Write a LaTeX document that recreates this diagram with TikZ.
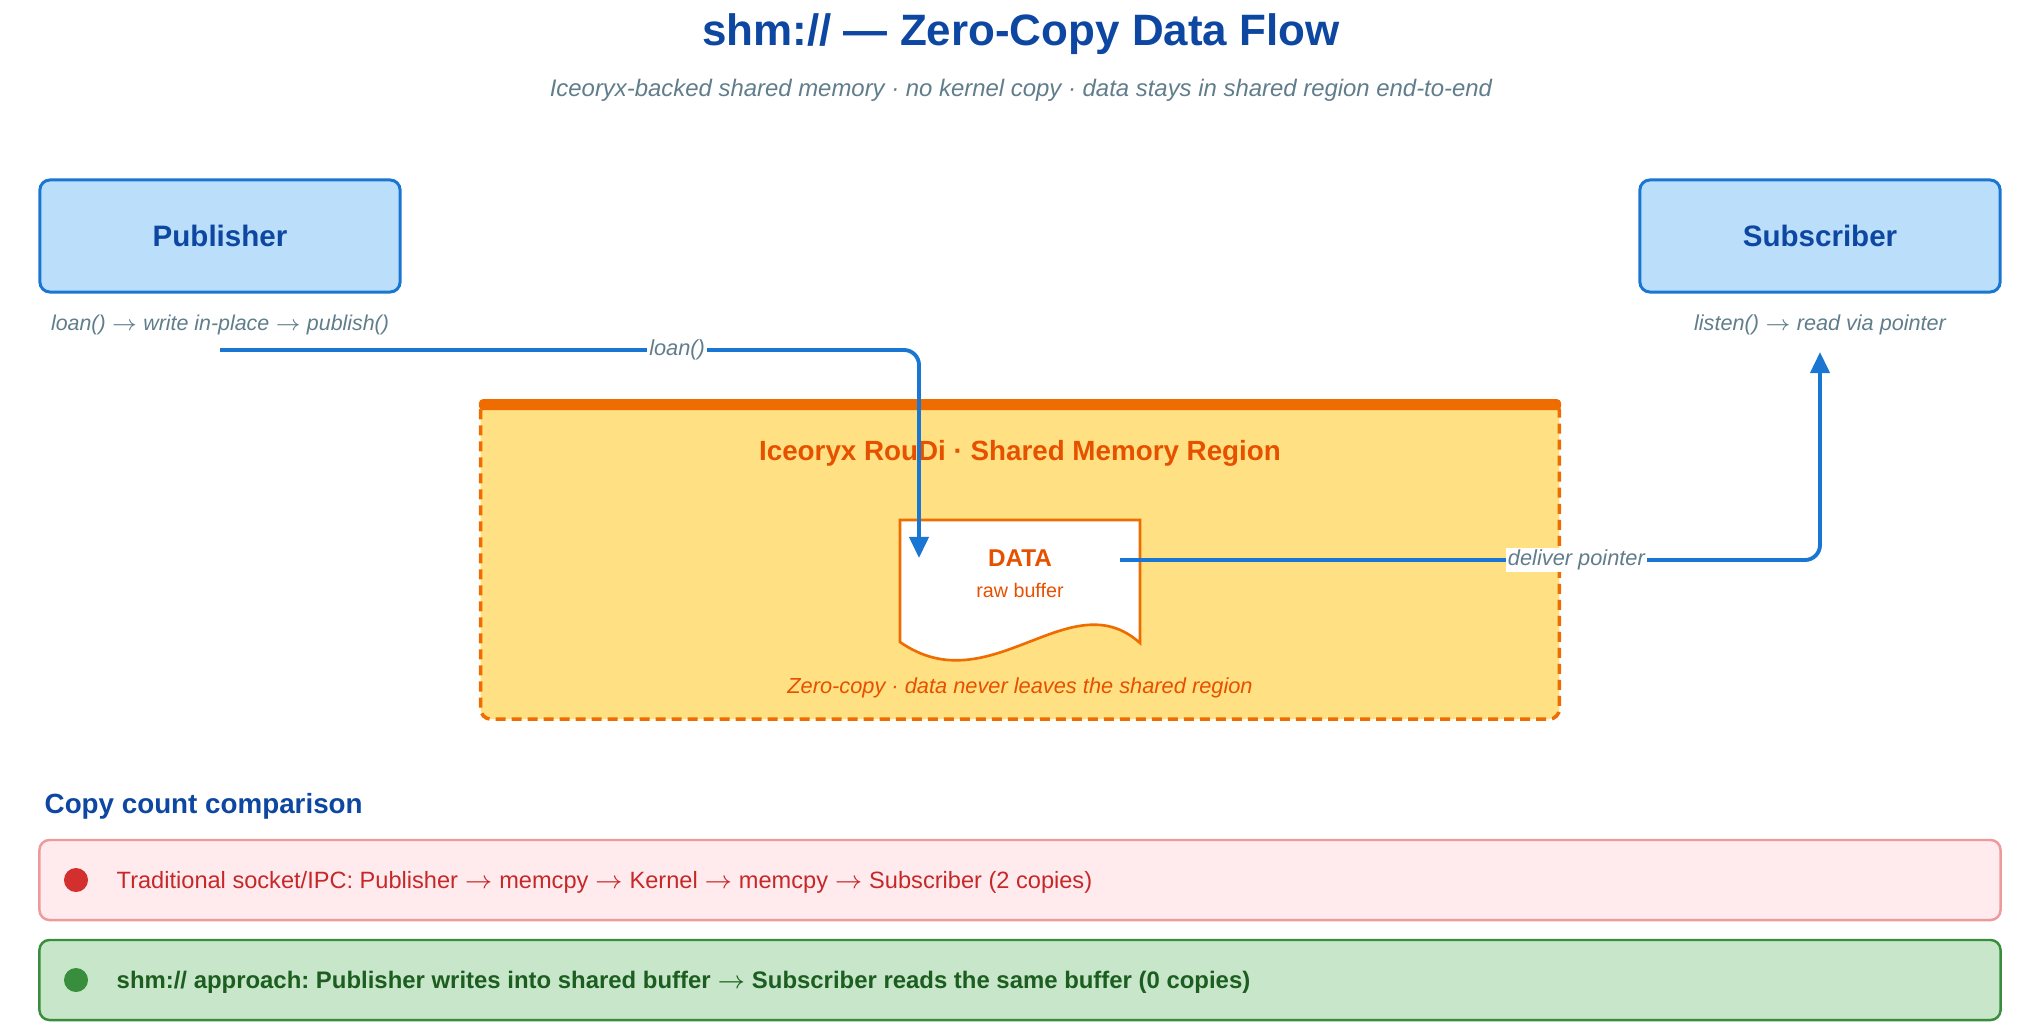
\documentclass[tikz,border=0pt]{standalone}
\usepackage{fontspec}
\setmainfont{Liberation Sans}
\usetikzlibrary{arrows.meta}
\frenchspacing
\definecolor{titleblue}{RGB}{13,71,161}
\definecolor{notegrey}{RGB}{96,125,139}
\definecolor{boxfill}{RGB}{187,222,251}
\definecolor{flowblue}{RGB}{25,118,210}
\definecolor{shmfill}{RGB}{255,224,130}
\definecolor{shmline}{RGB}{239,108,0}
\definecolor{shmtext}{RGB}{230,81,0}
\definecolor{redfill}{RGB}{255,235,238}
\definecolor{redline}{RGB}{239,154,154}
\definecolor{redtext}{RGB}{198,40,40}
\definecolor{reddot}{RGB}{211,47,47}
\definecolor{greenfill}{RGB}{200,230,201}
\definecolor{greenline}{RGB}{56,142,60}
\definecolor{greentext}{RGB}{27,94,32}

\begin{document}
\begin{tikzpicture}[x=0.01cm, y=-0.01cm,
    caja/.style={draw=flowblue, fill=boxfill, line width=0.85pt, rounded corners=0.1cm,
        minimum width=3.6cm, minimum height=1.12cm, text=titleblue,
        font=\fontsize{8.4}{10}\selectfont\bfseries},
    nota/.style={text=notegrey, font=\fontsize{6.2}{7.5}\selectfont\itshape, inner sep=0pt},
    etiqueta/.style={nota, fill=white, inner sep=0.6pt, sharp corners},
    flujo/.style={draw=flowblue, line width=1.1pt, rounded corners=0.15cm,
        -{Triangle[length=0.21cm, width=0.19cm]}},
    fila/.style={line width=0.7pt, rounded corners=0.1cm, minimum width=19.6cm, minimum height=0.8cm}]
    \useasboundingbox (0,0) rectangle (2042,1024);

    % Título
    \node[anchor=base, text=titleblue, font=\fontsize{12.5}{15}\selectfont\bfseries] (title) at (1021,45) {shm:// — Zero-Copy Data Flow};
    \node[nota, anchor=base, font=\fontsize{6.8}{8}\selectfont\itshape] (subtitle) at (1021,97) {Iceoryx-backed shared memory · no kernel copy · data stays in shared region end-to-end};

    % Publisher / Subscriber
    \node[caja] (pub) at (220,236) {Publisher};
    \node[caja] (sub) at (1820,236) {Subscriber};
    \node[nota, anchor=base, font=\fontsize{6.08}{7.5}\selectfont\itshape] (pubnote) at (220,330) {loan() $\rightarrow$ write in-place $\rightarrow$ publish()};
    \node[nota, anchor=base, font=\fontsize{6.15}{7.5}\selectfont\itshape] (subnote) at (1820,330) {listen() $\rightarrow$ read via pointer};

    % Región de memoria compartida
    \node[draw=shmline, fill=shmfill, line width=1pt, dash pattern=on 0.1cm off 0.06cm,
        rounded corners=0.1cm, minimum width=10.78cm, minimum height=3.18cm] (shm) at (1020,560) {};
    \fill[shmline, rounded corners=0.04cm] (shm.north west) rectangle ([yshift=-0.11cm]shm.north east);
    \node[anchor=base, text=shmtext, font=\fontsize{7.9}{9}\selectfont\bfseries] (shmtitle) at (1020,460) {Iceoryx RouDi · Shared Memory Region};
    \node[anchor=base, text=shmtext, font=\fontsize{6.2}{7.5}\selectfont\itshape] (shmnote) at (1020,693) {Zero-copy · data never leaves the shared region};

    % Buffer
    \draw[shmline, fill=white, line width=0.75pt] (900,520) -- (1140,520) -- (1140,643)
        .. controls (1070,580) and (990,705) .. (900,642) -- cycle;
    \node[anchor=base, text=shmtext, font=\fontsize{6.9}{8}\selectfont\bfseries] (bufdata) at (1020,566) {DATA};
    \node[anchor=base, text=shmtext, font=\fontsize{5.6}{7}\selectfont] (bufraw) at (1020,597) {raw buffer};

    % Flechas
    \coordinate (loanstart) at (220,350);
    \coordinate (loanend) at (919,558);
    \coordinate (delstart) at (1120,560);
    \coordinate (delend) at (1820,352);
    \draw[flujo] (loanstart) -| node[etiqueta, pos=0.327] (loanlbl) {loan()} (loanend);
    \draw[flujo] (delstart) -| node[etiqueta, pos=0.326] (dellbl) {deliver pointer} (delend);

    % Comparación
    \node[anchor=base west, inner sep=0pt, text=titleblue, font=\fontsize{7.9}{9}\selectfont\bfseries] (cmptitle) at (44,813) {Copy count comparison};
    \node[fila, draw=redline, fill=redfill] (trad) at (1020,880) {};
    \node[circle, fill=reddot, minimum size=0.24cm, inner sep=0pt] (traddot) at (76,880) {};
    \node[anchor=base west, inner sep=0pt, text=redtext, font=\fontsize{6.71}{8}\selectfont] (tradtxt) at (116,888) {Traditional socket/IPC: Publisher $\rightarrow$ memcpy $\rightarrow$ Kernel $\rightarrow$ memcpy $\rightarrow$ Subscriber (2 copies)};
    \node[fila, draw=greenline, fill=greenfill] (zc) at (1020,980) {};
    \node[circle, fill=greenline, minimum size=0.24cm, inner sep=0pt] (zcdot) at (76,980) {};
    \node[anchor=base west, inner sep=0pt, text=greentext, font=\fontsize{6.8}{8}\selectfont\bfseries] (zctxt) at (116,988) {shm:// approach: Publisher writes into shared buffer $\rightarrow$ Subscriber reads the same buffer (0 copies)};
\end{tikzpicture}
\end{document}
